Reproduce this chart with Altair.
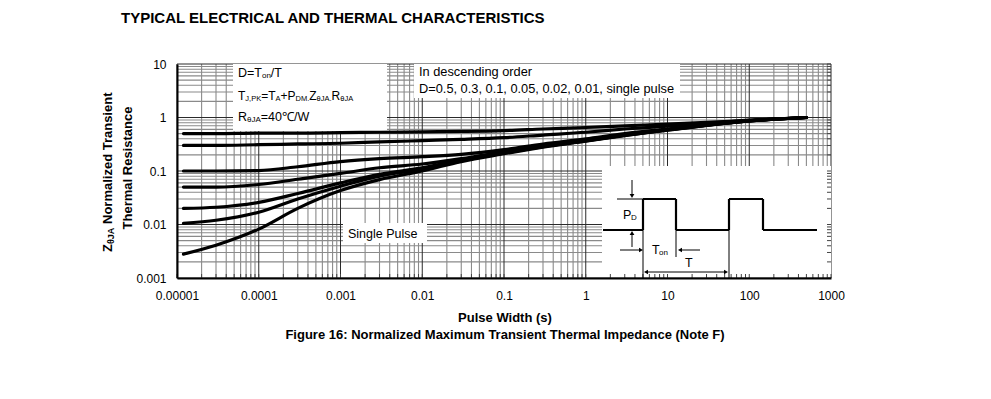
import altair as alt
import pandas as pd

# ---------------- data ----------------
pulse_width = [1.2e-5, 3e-5, 1e-4, 3e-4, 1e-3, 3e-3, 1e-2, 3e-2, 0.1, 0.3, 1, 3, 10, 30, 100, 500]
series_names = ["D=0.5", "D=0.3", "D=0.1", "D=0.05", "D=0.02", "D=0.01", "Single Pulse"]
z_d050 = [0.50, 0.50, 0.51, 0.51, 0.52, 0.53, 0.54, 0.55, 0.57, 0.61, 0.65, 0.70, 0.75, 0.81, 0.89, 1.0]
z_d030 = [0.30, 0.30, 0.31, 0.32, 0.33, 0.35, 0.37, 0.39, 0.42, 0.47, 0.53, 0.61, 0.69, 0.78, 0.88, 1.0]
z_d010 = [0.10, 0.10, 0.102, 0.12, 0.15, 0.17, 0.185, 0.205, 0.25, 0.32, 0.40, 0.50, 0.61, 0.73, 0.87, 1.0]
z_d005 = [0.050, 0.050, 0.056, 0.070, 0.090, 0.115, 0.135, 0.17, 0.23, 0.30, 0.38, 0.48, 0.60, 0.72, 0.865, 1.0]
z_d002 = [0.020, 0.021, 0.026, 0.038, 0.060, 0.087, 0.115, 0.16, 0.22, 0.29, 0.37, 0.47, 0.59, 0.72, 0.865, 1.0]
z_d001 = [0.0105, 0.012, 0.017, 0.030, 0.052, 0.080, 0.108, 0.155, 0.215, 0.285, 0.365, 0.465, 0.585, 0.715, 0.86, 1.0]
z_single = [0.0028, 0.0041, 0.0082, 0.020, 0.043, 0.069, 0.10, 0.15, 0.21, 0.28, 0.36, 0.46, 0.58, 0.71, 0.86, 1.0]

x_ticks = [1e-5, 1e-4, 1e-3, 1e-2, 1e-1, 1, 10, 100, 1000]
y_ticks = [0.001, 0.01, 0.1, 1, 10]

FONT = "Liberation Sans"
W, H = 654, 214

rows = []
for name, vals in zip(series_names, [z_d050, z_d030, z_d010, z_d005, z_d002, z_d001, z_single]):
    for x, z in zip(pulse_width, vals):
        rows.append({"series": name, "t": x, "z": z})
curves = pd.DataFrame(rows)
one = pd.DataFrame({"k": [0]})

# grid positions (1..9 per decade)
gx = []
for d in range(-5, 3):
    for m in range(1, 10):
        gx.append({"t": m * 10.0 ** d, "major": m == 1})
gx.append({"t": 1000.0, "major": True})
gx = pd.DataFrame(gx)
gy = []
for d in range(-3, 1):
    for m in range(1, 10):
        gy.append({"z": m * 10.0 ** d, "major": m == 1})
gy.append({"z": 10.0, "major": True})
gy = pd.DataFrame(gy)

xs = alt.Scale(type="log", domain=[1e-5, 1e3], nice=False)
ys = alt.Scale(type="log", domain=[1e-3, 10], nice=False)
xaxis = alt.Axis(values=x_ticks, format=".5~f", grid=False, ticks=False, labelFlush=False,
                 domainColor="black", domainWidth=2, labelFont=FONT,
                 labelFontSize=12, labelColor="black", labelPadding=12,
                 title=None, zindex=2)
yaxis = alt.Axis(values=y_ticks, format=".3~f", grid=False, ticks=False, labelFlush=False,
                 domainColor="black", domainWidth=2, labelFont=FONT,
                 labelFontSize=12, labelColor="black", labelPadding=11,
                 title=None, zindex=2)
X = alt.X("t:Q", scale=xs, axis=xaxis)
Y = alt.Y("z:Q", scale=ys, axis=yaxis)

minor_v = alt.Chart(gx[~gx.major]).mark_rule(color="#8a8a8a", strokeWidth=1.1).encode(x=X)
minor_h = alt.Chart(gy[~gy.major]).mark_rule(color="#8a8a8a", strokeWidth=1.1).encode(y=Y)
major_v = alt.Chart(gx[gx.major]).mark_rule(color="#2a2a2a", strokeWidth=1).encode(x=X)
major_h = alt.Chart(gy[gy.major]).mark_rule(color="#2a2a2a", strokeWidth=1).encode(y=Y)


def box(x1, x2, y1, y2):
    return alt.Chart(one).mark_rect(fill="white").encode(
        x=alt.value(x1), x2=alt.value(x2), y=alt.value(y1), y2=alt.value(y2))


boxes = [box(56, 210, 0, 67), box(237, 503, 0, 34), box(166, 250, 159, 179), box(425, 654, 102, 213)]

# short inward ticks along bottom and right edges (visible on the white inset)
ticks_b = alt.Chart(gx).mark_rule(color="#444444", strokeWidth=1).encode(
    x=X, y=alt.value(H - 4), y2=alt.value(H))
ticks_r = alt.Chart(gy).mark_rule(color="#444444", strokeWidth=1).encode(
    y=Y, x=alt.value(W - 4), x2=alt.value(W))

lines = alt.Chart(curves).mark_line(color="black", strokeWidth=3.2, interpolate="monotone",
                                    strokeCap="round").encode(x=X, y=Y, detail="series:N")

WID = {" ": 278, ",": 278, ".": 278, "/": 278, "=": 584, "+": 584, "A": 667, "D": 722, "J": 500,
       "K": 667, "M": 833, "P": 667, "R": 722, "T": 611, "W": 944, "Z": 611, "o": 556, "n": 556,
       "\u03b8": 556, "\u2103": 1000}


def width(s, size):
    return sum(WID.get(c, 556) for c in s) * size / 1000.0


def txt(s, x, y, size=12, bold=False, align="left", angle=0, baseline="middle"):
    kw = dict(text=s, font=FONT, fontSize=size, fontWeight="bold" if bold else "normal",
              align=align, baseline=baseline, color="black")
    if angle:
        kw["angle"] = angle
    return alt.Chart(one).mark_text(**kw).encode(x=alt.value(x), y=alt.value(y))


def seg(parts, x0, y0, main=12, sub=8, dy=3):
    out = []
    x = x0
    for s, is_sub in parts:
        size = sub if is_sub else main
        out.append(txt(s, x, y0 + (dy if is_sub else 0), size=size))
        x += width(s, size)
    return out


def rule(x1, y1, x2, y2, w=1):
    return alt.Chart(one).mark_rule(color="black", strokeWidth=w).encode(
        x=alt.value(x1), y=alt.value(y1), x2=alt.value(x2), y2=alt.value(y2))


def head(x, y, shape):
    return alt.Chart(one).mark_point(shape=shape, filled=True, color="black", size=22, opacity=1).encode(
        x=alt.value(x), y=alt.value(y))


texts = []
texts += seg([("D=T", 0), ("on", 1), ("/T", 0)], 61, 9, main=12.5)
texts += seg([("T", 0), ("J,PK", 1), ("=T", 0), ("A", 1), ("+P", 0), ("DM", 1), (".", 1), ("Z", 0),
              ("\u03b8JA", 1), (".", 1), ("R", 0), ("\u03b8JA", 1)], 61, 32, main=12, sub=7.5)
texts += seg([("R", 0), ("\u03b8JA", 1), ("=40\u2103/W", 0)], 61, 53, main=12.5)
texts += [
    txt("In descending order", 242, 8, size=12.8),
    txt("D=0.5, 0.3, 0.1, 0.05, 0.02, 0.01, single pulse", 242, 25, size=12.8),
    txt("Single Pulse", 171, 170, size=12.5),
    # titles
    txt("TYPICAL ELECTRICAL AND THERMAL CHARACTERISTICS", -56, -46, size=15, bold=True),
    txt("Pulse Width (s)", 328, 254, size=13, bold=True, align="center"),
    txt("Figure 16: Normalized Maximum Transient Thermal Impedance (Note F)", 328, 271, size=13,
        bold=True, align="center"),
    txt("Z", -69, 188, size=13, bold=True, angle=270),
    txt("\u03b8JA", -66, 180, size=9, bold=True, angle=270),
    txt("Normalized Transient", -69, 160, size=13, bold=True, angle=270),
    txt("Thermal Resistance", -49, 104, size=13, bold=True, angle=270, align="center"),
    # inset labels
    txt("P", 446, 151, size=12.5), txt("D", 454, 154, size=8),
    txt("T", 475, 186, size=12.5), txt("on", 482, 189, size=8),
    txt("T", 508, 199, size=12.5),
]

wave = [(426, 166), (466, 166), (466, 135), (499, 135), (499, 166), (552, 166), (552, 135),
        (586, 135), (586, 166), (640, 166)]
inset = []
for (a, b), (c, d) in zip(wave[:-1], wave[1:]):
    inset.append(rule(a, b, c, d, w=2.2))
inset += [
    rule(440, 135, 466, 135), rule(455, 116, 455, 131), head(455, 132, "triangle-down"),
    rule(455, 183, 455, 171), head(455, 169, "triangle-up"),
    rule(443, 186, 462, 186), head(464, 186, "triangle-right"),
    rule(523, 186, 505, 186), head(503, 186, "triangle-left"),
    rule(499, 166, 499, 193), rule(466, 166, 466, 214), rule(552, 166, 552, 214),
    rule(471, 208, 547, 208), head(469, 208, "triangle-left"), head(549, 208, "triangle-right"),
]

chart = alt.layer(minor_v, minor_h, major_v, major_h, *boxes, ticks_b, ticks_r, lines, *texts,
                  *inset).properties(
    width=W, height=H, autosize="none",
    padding={"left": 169, "top": 56, "right": 150, "bottom": 110},
).configure_view(stroke=None)

chart.save("out.html", embed_options={"renderer": "svg", "actions": False})
